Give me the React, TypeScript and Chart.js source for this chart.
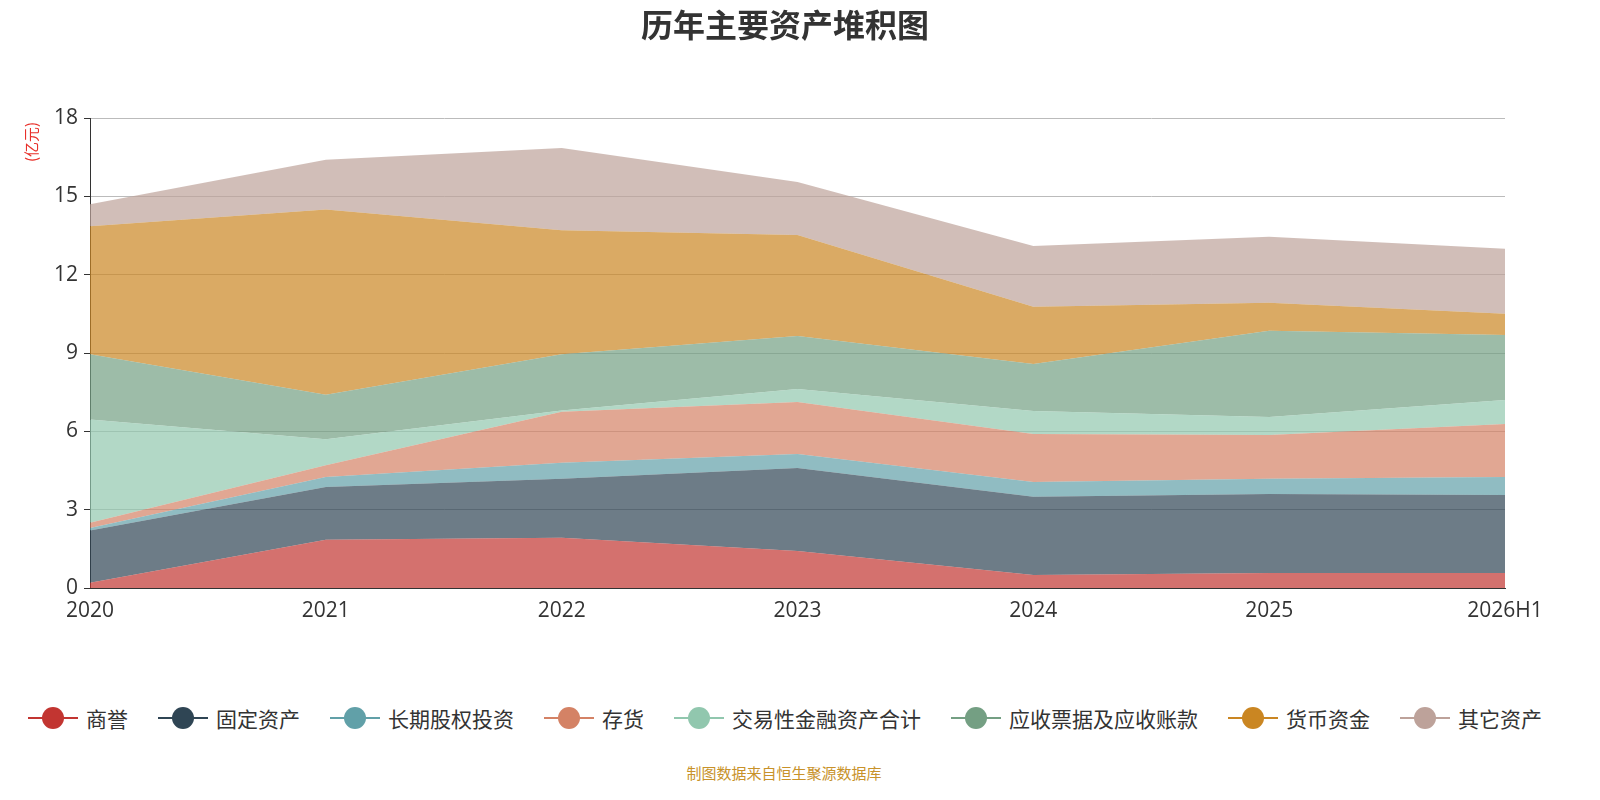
import React, { useEffect, useRef } from "react";
import { Chart, registerables } from "chart.js";
Chart.register(...registerables);

const categories = ["2020", "2021", "2022", "2023", "2024", "2025", "2026H1"];
const goodwill = [0.2, 1.85, 1.92, 1.42, 0.5, 0.57, 0.57];
const fixedAssets = [2.0, 2.02, 2.26, 3.18, 2.99, 3.03, 2.99];
const longEquity = [0.1, 0.38, 0.62, 0.53, 0.57, 0.58, 0.69];
const inventory = [0.2, 0.45, 1.95, 1.99, 1.84, 1.68, 2.03];
const tradingFin = [3.95, 1.0, 0.05, 0.5, 0.88, 0.69, 0.92];
const receivables = [2.5, 1.7, 2.15, 2.03, 1.8, 3.3, 2.49];
const cash = [4.9, 7.1, 4.75, 3.87, 2.19, 1.07, 0.81];
const others = [0.85, 1.9, 3.15, 2.03, 2.33, 2.53, 2.49];
const yTicks = [0, 3, 6, 9, 12, 15, 18];

const seriesNames = ["商誉", "固定资产", "长期股权投资", "存货", "交易性金融资产合计", "应收票据及应收账款", "货币资金", "其它资产"];
const seriesData = [goodwill, fixedAssets, longEquity, inventory, tradingFin, receivables, cash, others];
const colors = ["#c23531", "#2f4554", "#61a0a8", "#d48265", "#91c7ae", "#749f83", "#ca8622", "#bda29a"];

function hexA(h: string, a: number) {
  const n = parseInt(h.slice(1), 16);
  return `rgba(${(n >> 16) & 255},${(n >> 8) & 255},${n & 255},${a})`;
}

export default function App() {
  const ref = useRef<HTMLCanvasElement>(null);
  useEffect(() => {
    document.body.style.margin = "0";
    document.documentElement.style.overflow = "hidden";
    document.body.style.overflow = "hidden";
    const textPlugin = {
      id: "txt",
      afterDraw(c: any) {
        const ctx = c.ctx;
        ctx.save();
        ctx.fillStyle = "#333";
        ctx.font = "bold 32px 'Noto Sans CJK SC'";
        ctx.textAlign = "center";
        ctx.textBaseline = "middle";
        ctx.fillText("历年主要资产堆积图", 785, 25);
        ctx.translate(31, 142);
        ctx.rotate(-Math.PI / 2);
        ctx.fillStyle = "#e8302a";
        ctx.font = "15px 'Noto Sans CJK SC'";
        ctx.fillText("(亿元)", 0, 0);
        ctx.restore();
      },
    };
    const chart = new Chart(ref.current!, {
      type: "line",
      data: {
        labels: categories,
        datasets: seriesData.map((d, i) => ({
          label: seriesNames[i],
          data: d,
          borderWidth: 0,
          borderColor: "transparent",
          backgroundColor: hexA(colors[i], 0.7),
          fill: i === 0 ? "origin" : "-1",
          pointRadius: 0,
          tension: 0,
        })),
      },
      options: {
        animation: false,
        responsive: false,
        layout: { padding: { top: 118, right: 95, left: 0, bottom: 0 } },
        plugins: { legend: { display: false }, tooltip: { enabled: false } },
        scales: {
          x: {
            offset: false,
            grid: { display: false },
            border: { color: "#333" },
            ticks: { color: "#333", font: { size: 21, family: "'Open Sans'" }, maxRotation: 0, padding: 2 },
            afterFit: (s: any) => { s.height = 72; },
          },
          y: {
            stacked: true,
            min: 0,
            max: 18,
            afterBuildTicks: (s: any) => { s.ticks = yTicks.map((v) => ({ value: v })); },
            grid: { color: "#bbb", tickLength: 6, tickColor: "#333" },
            border: { color: "#333" },
            ticks: { color: "#333", font: { size: 21, family: "'Open Sans'" }, padding: 6 },
            afterFit: (s: any) => { s.width = 90; },
          },
        },
      },
      plugins: [textPlugin],
    });
    return () => chart.destroy();
  }, []);
  return (
    <div style={{ position: "relative", width: 1600, height: 796, overflow: "hidden", fontFamily: "'Noto Sans CJK SC'" }}>
      <canvas ref={ref} width={1600} height={660} style={{ display: "block" }} />
      <div style={{ position: "absolute", top: 703, left: 0, width: 1570, display: "flex", justifyContent: "center", gap: 30, fontSize: 21, color: "#333" }}>
        {seriesNames.map((n, i) => (
          <div key={n} style={{ display: "flex", alignItems: "center", gap: 8 }}>
            <svg width={50} height={28}>
              <line x1={0} y1={14} x2={50} y2={14} stroke={colors[i]} strokeWidth={2} />
              <circle cx={25} cy={14} r={11} fill={colors[i]} />
            </svg>
            <span>{n}</span>
          </div>
        ))}
      </div>
      <div style={{ position: "absolute", top: 762, width: 1568, textAlign: "center", fontSize: 15, color: "#c8922a" }}>制图数据来自恒生聚源数据库</div>
    </div>
  );
}
